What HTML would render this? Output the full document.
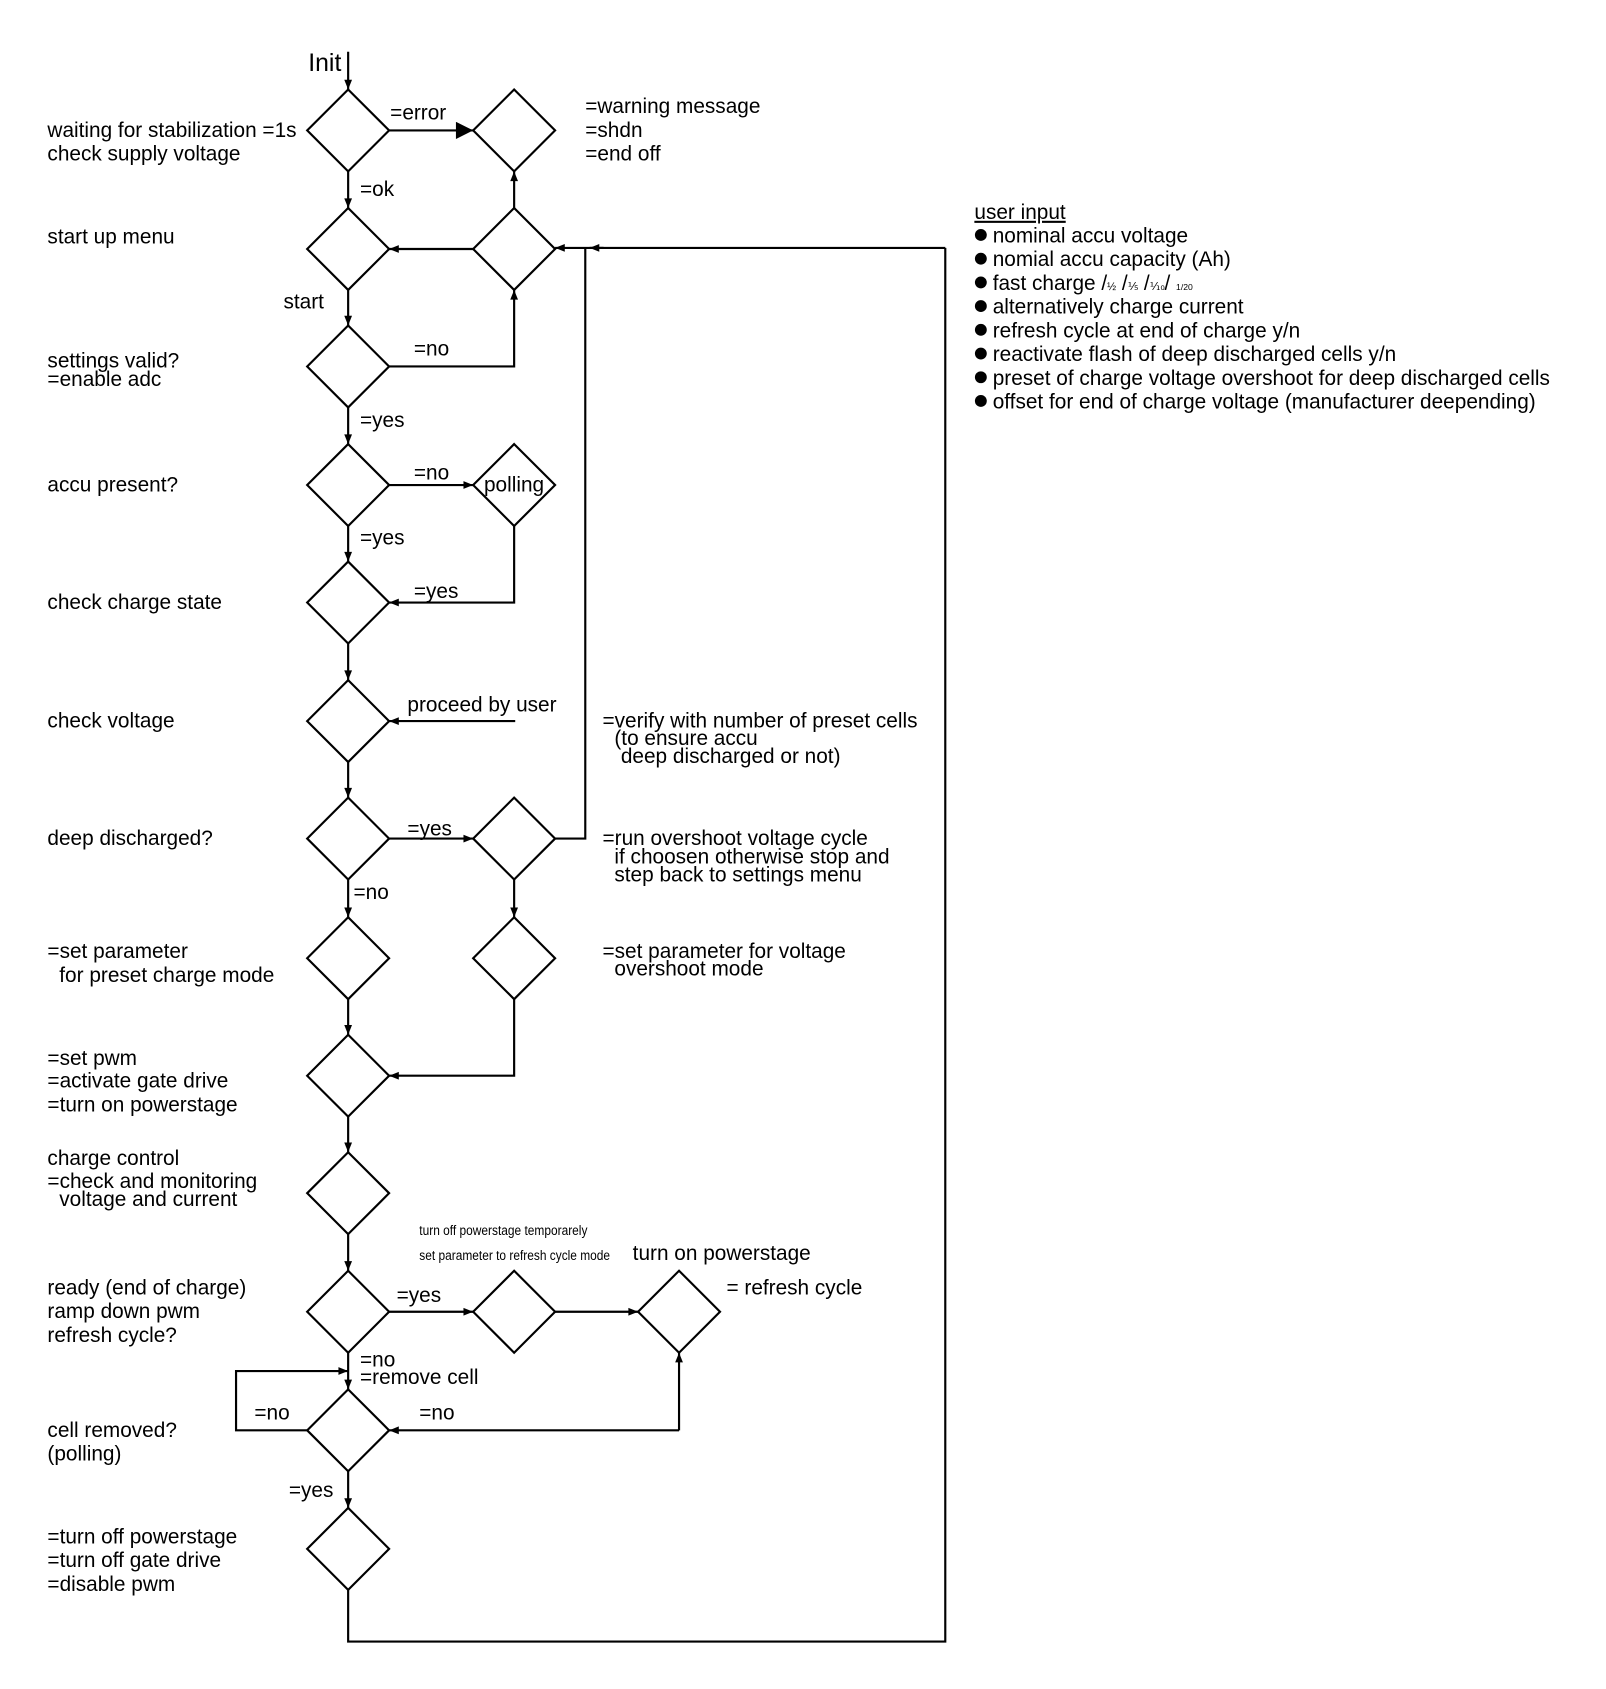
<!DOCTYPE html>
<html><head><meta charset="utf-8"><style>
html,body{margin:0;padding:0;background:#fff;}
svg{display:block;}
text{font-family:"Liberation Sans",Arial,sans-serif;font-size:19.3px;fill:#000;}
.s{font-size:13px;}
</style></head><body>
<svg width="1606" height="1689" viewBox="0 0 1490 1567" preserveAspectRatio="none" xmlns="http://www.w3.org/2000/svg">
<defs>
<marker id="a" viewBox="0 0 10 10" refX="10" refY="5" markerWidth="10" markerHeight="9" markerUnits="userSpaceOnUse" orient="auto"><path d="M0,1 L10,5 L0,9 z" fill="#000"/></marker>
<marker id="b" viewBox="0 0 10 10" refX="10" refY="5" markerWidth="22" markerHeight="16" markerUnits="userSpaceOnUse" orient="auto"><path d="M0,0 L10,5 L0,10 z" fill="#000"/></marker>
</defs>
<g fill="none" stroke="#000" stroke-width="2">
<path d="M323,83 L361,121 L323,159 L285,121 Z"/>
<path d="M323,193 L361,231 L323,269 L285,231 Z"/>
<path d="M323,302 L361,340 L323,378 L285,340 Z"/>
<path d="M323,412 L361,450 L323,488 L285,450 Z"/>
<path d="M323,521 L361,559 L323,597 L285,559 Z"/>
<path d="M323,631 L361,669 L323,707 L285,669 Z"/>
<path d="M323,740 L361,778 L323,816 L285,778 Z"/>
<path d="M323,851 L361,889 L323,927 L285,889 Z"/>
<path d="M323,960 L361,998 L323,1036 L285,998 Z"/>
<path d="M323,1069 L361,1107 L323,1145 L285,1107 Z"/>
<path d="M323,1179 L361,1217 L323,1255 L285,1217 Z"/>
<path d="M323,1289 L361,1327 L323,1365 L285,1327 Z"/>
<path d="M323,1399 L361,1437 L323,1475 L285,1437 Z"/>
<path d="M477,83 L515,121 L477,159 L439,121 Z"/>
<path d="M477,193 L515,231 L477,269 L439,231 Z"/>
<path d="M477,412 L515,450 L477,488 L439,450 Z"/>
<path d="M477,740 L515,778 L477,816 L439,778 Z"/>
<path d="M477,851 L515,889 L477,927 L439,889 Z"/>
<path d="M477,1179 L515,1217 L477,1255 L439,1217 Z"/>
<path d="M630,1179 L668,1217 L630,1255 L592,1217 Z"/>
</g>
<g fill="none" stroke="#000" stroke-width="2">
<line x1="323" y1="48" x2="323" y2="83" marker-end="url(#a)"/>
<line x1="361" y1="121" x2="439" y2="121" marker-end="url(#b)"/>
<line x1="323" y1="159" x2="323" y2="193" marker-end="url(#a)"/>
<line x1="477" y1="193" x2="477" y2="159" marker-end="url(#a)"/>
<line x1="439" y1="231" x2="361" y2="231" marker-end="url(#a)"/>
<line x1="877" y1="230" x2="515" y2="230" marker-end="url(#a)"/>
<line x1="560" y1="230" x2="547" y2="230" marker-end="url(#a)"/>
<polyline points="515,778 543,778 543,230"/>
<line x1="323" y1="269" x2="323" y2="302" marker-end="url(#a)"/>
<polyline points="361,340 477,340 477,269" marker-end="url(#a)"/>
<line x1="323" y1="378" x2="323" y2="412" marker-end="url(#a)"/>
<line x1="361" y1="450" x2="439" y2="450" marker-end="url(#a)"/>
<polyline points="477,488 477,559 361,559" marker-end="url(#a)"/>
<line x1="323" y1="488" x2="323" y2="521" marker-end="url(#a)"/>
<line x1="323" y1="597" x2="323" y2="631" marker-end="url(#a)"/>
<line x1="478" y1="669" x2="361" y2="669" marker-end="url(#a)"/>
<line x1="323" y1="707" x2="323" y2="740" marker-end="url(#a)"/>
<line x1="361" y1="778" x2="439" y2="778" marker-end="url(#a)"/>
<line x1="323" y1="816" x2="323" y2="851" marker-end="url(#a)"/>
<line x1="477" y1="816" x2="477" y2="851" marker-end="url(#a)"/>
<line x1="323" y1="927" x2="323" y2="960" marker-end="url(#a)"/>
<polyline points="477,927 477,998 361,998" marker-end="url(#a)"/>
<line x1="323" y1="1036" x2="323" y2="1069" marker-end="url(#a)"/>
<line x1="323" y1="1145" x2="323" y2="1179" marker-end="url(#a)"/>
<line x1="361" y1="1217" x2="439" y2="1217" marker-end="url(#a)"/>
<line x1="515" y1="1217" x2="592" y2="1217" marker-end="url(#a)"/>
<line x1="630" y1="1327" x2="630" y2="1255" marker-end="url(#a)"/>
<polyline points="630,1327 361,1327" marker-end="url(#a)"/>
<line x1="323" y1="1255" x2="323" y2="1289" marker-end="url(#a)"/>
<polyline points="285,1327 219,1327 219,1272 323,1272" marker-end="url(#a)"/>
<line x1="323" y1="1365" x2="323" y2="1399" marker-end="url(#a)"/>
<polyline points="323,1475 323,1523 877,1523 877,230"/>
</g>
<text x="286" y="66" style="font-size:23px">Init</text>
<text x="362" y="111">=error</text>
<text x="334" y="182">=ok</text>
<text x="263" y="286">start</text>
<text x="384" y="330">=no</text>
<text x="334" y="396">=yes</text>
<text x="384" y="445">=no</text>
<text x="449" y="456">polling</text>
<text x="334" y="505">=yes</text>
<text x="384" y="555">=yes</text>
<text x="378" y="660">proceed by user</text>
<text x="378" y="775">=yes</text>
<text x="328" y="834">=no</text>
<text x="368" y="1208">=yes</text>
<text x="334" y="1268">=no</text>
<text x="334" y="1284">=remove cell</text>
<text x="236" y="1317">=no</text>
<text x="389" y="1317">=no</text>
<text x="268" y="1389">=yes</text>
<text x="543" y="105">=warning message</text>
<text x="543" y="127">=shdn</text>
<text x="543" y="149">=end off</text>
<text x="904" y="203" text-decoration="underline">user input</text>
<g fill="#000"><circle cx="910" cy="218" r="5.5"/><circle cx="910" cy="240" r="5.5"/><circle cx="910" cy="262" r="5.5"/><circle cx="910" cy="284" r="5.5"/><circle cx="910" cy="306" r="5.5"/><circle cx="910" cy="328" r="5.5"/><circle cx="910" cy="350" r="5.5"/><circle cx="910" cy="372" r="5.5"/></g>
<text x="921" y="225">nominal accu voltage</text>
<text x="921" y="247">nomial accu capacity (Ah)</text>
<text x="921" y="269">fast charge /<tspan style="font-size:10px">½</tspan> /<tspan style="font-size:10px">⅕</tspan> /<tspan style="font-size:10px">⅒</tspan>/ <tspan style="font-size:8px">1/20</tspan></text>
<text x="921" y="291">alternatively charge current</text>
<text x="921" y="313">refresh cycle at end of charge y/n</text>
<text x="921" y="335">reactivate flash of deep discharged cells y/n</text>
<text x="921" y="357">preset of charge voltage overshoot for deep discharged cells</text>
<text x="921" y="379">offset for end of charge voltage (manufacturer deepending)</text>
<text x="559" y="675">=verify with number of preset cells</text>
<text x="570" y="691">(to ensure  accu</text>
<text x="576" y="708">deep discharged or not)</text>
<text x="559" y="784">=run overshoot voltage cycle</text>
<text x="570" y="801">if choosen otherwise stop and</text>
<text x="570" y="818">step back to settings menu</text>
<text x="559" y="889">=set parameter for voltage</text>
<text x="570" y="905">overshoot mode</text>
<text class="s" x="389" y="1146" textLength="156" lengthAdjust="spacingAndGlyphs">turn off powerstage temporarely</text>
<text class="s" x="389" y="1169" textLength="177" lengthAdjust="spacingAndGlyphs">set parameter to refresh cycle mode</text>
<text x="587" y="1169">turn on powerstage</text>
<text x="674" y="1201">= refresh cycle</text>
<text x="44" y="127">waiting for stabilization =1s</text>
<text x="44" y="149">check supply voltage</text>
<text x="44" y="226">start up menu</text>
<text x="44" y="341">settings valid?</text>
<text x="44" y="358">=enable adc</text>
<text x="44" y="456">accu present?</text>
<text x="44" y="565">check charge state</text>
<text x="44" y="675">check voltage</text>
<text x="44" y="784">deep discharged?</text>
<text x="44" y="889">=set parameter</text>
<text x="55" y="911">for preset charge mode</text>
<text x="44" y="988">=set pwm</text>
<text x="44" y="1009">=activate gate drive</text>
<text x="44" y="1031">=turn on powerstage</text>
<text x="44" y="1081">charge control</text>
<text x="44" y="1102">=check and monitoring</text>
<text x="55" y="1119">voltage and current</text>
<text x="44" y="1201">ready (end of charge)</text>
<text x="44" y="1223">ramp down pwm</text>
<text x="44" y="1245">refresh cycle?</text>
<text x="44" y="1333">cell removed?</text>
<text x="44" y="1355">(polling)</text>
<text x="44" y="1432">=turn off powerstage</text>
<text x="44" y="1454">=turn off gate drive</text>
<text x="44" y="1476">=disable pwm</text>
</svg>
</body></html>
